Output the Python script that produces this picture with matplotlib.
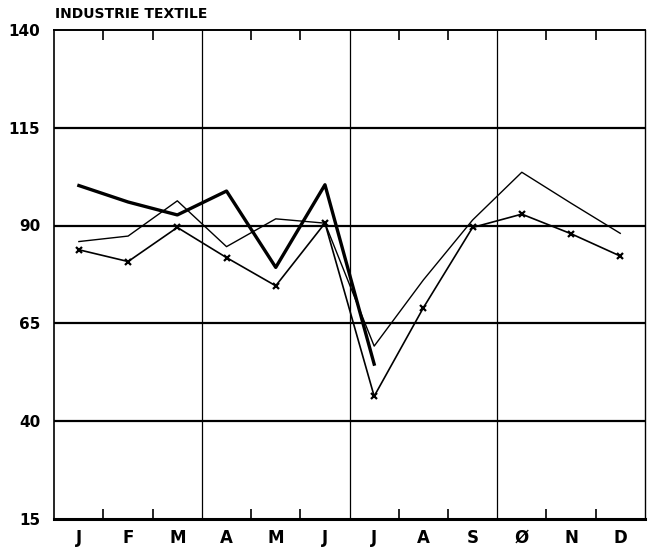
import matplotlib.pyplot as plt
import numpy as np

# mois et valeurs
mois = ['J', 'F', 'M', 'A', 'M', 'J', 'J', 'A', 'S', 'Ø', 'N', 'D']
serie_epaisse = [100.2, 96.0, 92.7, 98.8, 79.3, 100.4, 54.6]
serie_fine = [85.9, 87.3, 96.3, 84.6, 91.7, 90.6, 59.2, 76.1, 91.4, 103.6, 95.7, 88.0]
serie_croix = [83.8, 80.8, 89.5, 81.8, 74.6, 90.6, 46.4, 69.0, 89.5, 92.9, 87.9, 82.2]
y_ticks = [15, 40, 65, 90, 115, 140]

fig = plt.figure(figsize=(6.54, 5.5), dpi=100)
ax = fig.add_axes([0.083, 0.056, 0.903, 0.89])

x = np.arange(len(mois)) + 0.5

# grille
for v in y_ticks[1:-1]:
    ax.axhline(v, color='black', linewidth=1.6, zorder=1)
for q in [3, 6, 9]:
    ax.axvline(q, color='black', linewidth=0.9, zorder=1)

ax.plot(x[:len(serie_epaisse)], serie_epaisse, color='black', linewidth=2.4, zorder=3)
ax.plot(x, serie_fine, color='black', linewidth=1.0, zorder=3)
ax.plot(x, serie_croix, color='black', linewidth=1.2, marker='x',
        markersize=5, markeredgewidth=1.6, zorder=3)

ax.set_xlim(0, 12)
ax.set_ylim(15, 140)

ax.set_xticks(x)
ax.set_xticklabels(mois, fontsize=12, fontweight='bold', family='DejaVu Sans')
ax.set_xticks([1, 2, 4, 5, 7, 8, 10, 11], minor=True)
ax.tick_params(axis='x', which='major', length=0, pad=7)
ax.tick_params(axis='x', which='minor', direction='in', length=7, width=1.2,
               top=True, bottom=True)

ax.set_yticks(y_ticks)
ax.set_yticklabels([str(v) for v in y_ticks], fontsize=11, fontweight='bold')
ax.tick_params(axis='y', length=0, pad=10)

ax.spines['bottom'].set_linewidth(2.2)
ax.spines['top'].set_linewidth(1.4)
ax.spines['left'].set_linewidth(1.2)
ax.spines['right'].set_linewidth(1.0)

fig.text(0.084, 0.962, 'INDUSTRIE TEXTILE', fontsize=10, fontweight='bold',
         ha='left', va='bottom')

plt.savefig('out.png', dpi=100)
plt.close()
